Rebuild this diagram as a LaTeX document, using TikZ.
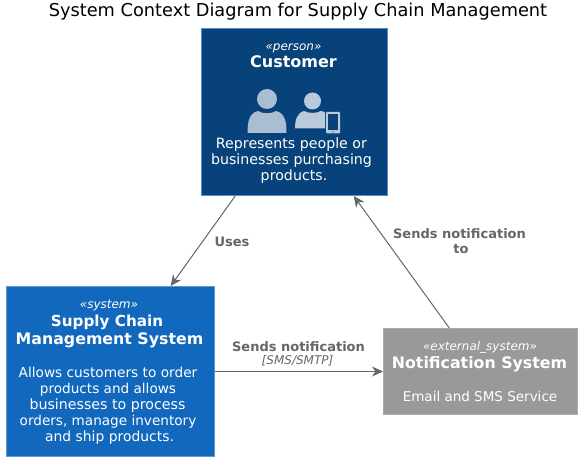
\documentclass[tikz,border=0pt]{standalone}
\usepackage{fontspec}
\setmainfont{DejaVu Sans}
\usetikzlibrary{arrows.meta,calc}
\definecolor{custblue}{HTML}{08427B}
\definecolor{custedge}{HTML}{5A8FC4}
\definecolor{sysblue}{HTML}{1168BD}
\definecolor{sysedge}{HTML}{5E97D6}
\definecolor{extgrey}{HTML}{999999}
\definecolor{extedge}{HTML}{ABABAB}
\definecolor{linkgrey}{HTML}{666666}
\definecolor{iconA}{HTML}{A9BED3}
\definecolor{iconB}{HTML}{B9CADB}
\newcommand{\fs}[1]{\fontsize{#1}{#1}\selectfont}
\tikzset{
  x=1pt,y=-1pt,
  box/.style={rectangle,draw,line width=1pt,inner sep=0pt,anchor=north west},
  boxtext/.style={text=white,align=center,inner sep=0pt,anchor=base},
  stereo/.style={boxtext,font=\fs{12}\itshape},
  btitle/.style={boxtext,font=\fs{15.8}\bfseries},
  bbody/.style={boxtext,font=\fs{14}},
  link/.style={draw=linkgrey,line width=1pt,-{Stealth[length=11pt,width=10pt,inset=3.5pt]}},
  linklabel/.style={text=linkgrey,font=\fs{13}\bfseries,inner sep=0pt,anchor=base},
  techlabel/.style={text=linkgrey,font=\fs{12}\itshape,inner sep=0pt,anchor=base},
}
\begin{document}
\begin{tikzpicture}
\useasboundingbox (0,0) rectangle (586,465);
\node[inner sep=0pt,anchor=base,font=\fs{17.75}] (title) at (298,16.5) {System Context Diagram for Supply Chain Management};

\node[box,fill=custblue,draw=custedge,minimum width=186pt,minimum height=167pt] (cust) at (201,28) {};
\node[box,fill=sysblue,draw=sysedge,minimum width=208pt,minimum height=170pt] (sys) at (6,286) {};
\node[box,fill=extgrey,draw=extedge,minimum width=194pt,minimum height=86pt] (ext) at (383,328) {};

% customer text
\node[stereo] (c1) at (293.5,51) {«person»};
\node[btitle,font=\fs{16}\bfseries] (c2) at (293.5,68) {Customer};
\node[bbody,font=\fs{14.2}] (c3) at (291.5,149) {Represents people or};
\node[bbody,font=\fs{14.2}] (c4) at (291.5,165) {businesses purchasing};
\node[bbody,font=\fs{14.2}] (c5) at (294,181) {products.};

% customer icons
\fill[iconA] (267,99) circle[radius=10];
\fill[iconA] (247.5,133) .. controls (247.5,122) and (249,113) .. (258,111) .. controls (262,114) and (272,114) .. (276,111) .. controls (285,113) and (286.5,122) .. (286.5,133) -- cycle;
\fill[iconB] (312.5,101) circle[radius=8.5];
\fill[iconB] (295,128.5) .. controls (295,120) and (297,113) .. (304,111) .. controls (308,113.5) and (317,113.5) .. (321,111) .. controls (322,111.3) and (325,112) .. (325,112) -- (325,128.5) -- cycle;
\fill[iconB,rounded corners=1pt] (326,112) rectangle (340,133.5);
\fill[custblue] (327.7,114.5) rectangle (338.3,130);
\fill[custblue] (333,131.8) circle[radius=0.7];

% system text
\node[stereo] (s1) at (109,308) {«system»};
\node[btitle,font=\fs{15.2}\bfseries] (s2) at (107,326) {Supply Chain};
\node[btitle] (s3) at (109.5,344) {Management System};
\node[bbody,font=\fs{13.7}] (s4) at (108,377) {Allows customers to order};
\node[bbody,font=\fs{13.6}] (s5) at (108,393) {products and allows};
\node[bbody,font=\fs{14.2}] (s6) at (107.5,409) {businesses to process};
\node[bbody,font=\fs{13.6}] (s7) at (108,425) {orders, manage inventory};
\node[bbody,font=\fs{13.9}] (s8) at (109.5,441) {and ship products.};

% external text
\node[stereo] (e1) at (480,350) {«external\_system»};
\node[btitle] (e2) at (479.5,368) {Notification System};
\node[bbody,font=\fs{13.5}] (e3) at (480,401) {Email and SMS Service};

% connectors
\draw[link] ($(cust.south west)!0.183!(cust.south east)$) -- ($(sys.north west)!0.788!(sys.north east)$);
\draw[link] ($(ext.north west)!0.34!(ext.north east)$) -- ($(cust.south west)!0.817!(cust.south east)$);
\draw[link] (sys.east) -- (ext.west);

% link labels
\node[linklabel] (l1) at (232,246) {Uses};
\node[linklabel] (l2) at (459.5,238) {Sends notification};
\node[linklabel] (l3) at (461,253) {to};
\node[linklabel] (l4) at (298.5,351) {Sends notification};
\node[techlabel] (l5) at (297.5,364) {[SMS/SMTP]};
\end{tikzpicture}
\end{document}
